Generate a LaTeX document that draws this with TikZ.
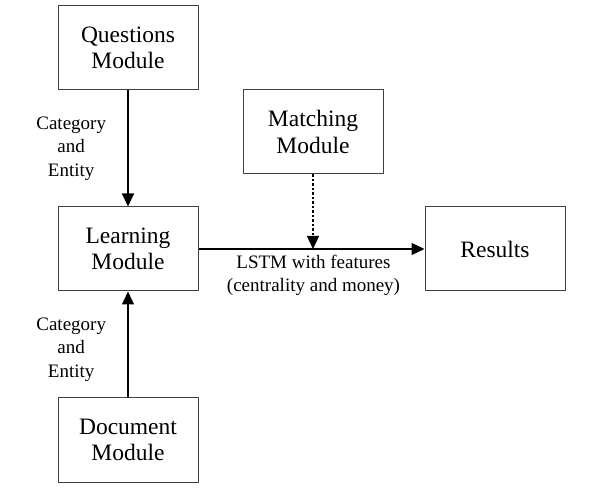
\documentclass[tikz,border=0pt]{standalone}
\usepackage{fontspec}
\setmainfont{Liberation Serif}
\usetikzlibrary{arrows, arrows.meta, positioning, calc}

\tikzset{
  module/.style={shape=rectangle, draw=black!75, line width=1pt, minimum width=140pt,
    minimum height=84pt, align=center, font=\fontsize{23.5}{26.5}\selectfont},
  lbl/.style={align=center, font=\fontsize{19}{23.5}\selectfont},
  arr/.style={-{Triangle[length=13pt,width=12pt]}, line width=1.3pt}
}

\begin{document}
\begin{tikzpicture}[x=1pt,y=1pt]
    \useasboundingbox (0,0) rectangle (599,495);
    \node[module] (Q) at (128,447) {Questions\\Module};
    \node[module] (L) at (128,246) {Learning\\Module};
    \node[module] (D) at (128,55) {Document\\Module};
    \node[module] (M) at (313,363) {Matching\\Module};
    \node[module] (R) at (495,246) {Results};
    \coordinate (J) at (M.south |- L.east);
    %\path [->](Q) (L);
    \path [arr](Q) edge node[lbl, left=18pt] {Category\\and\\Entity} (L);
    \path [arr](D) edge node[lbl, left=18pt, yshift=-5pt] {Category\\and\\Entity} (L);
    \path [arr](L) edge node[lbl, below=2pt, xshift=2pt] {LSTM with features\\(centrality and money)} (R);
    \path [arr, dash pattern=on 2.5pt off 2pt](M) edge node {} (J);
\end{tikzpicture}
\end{document}
